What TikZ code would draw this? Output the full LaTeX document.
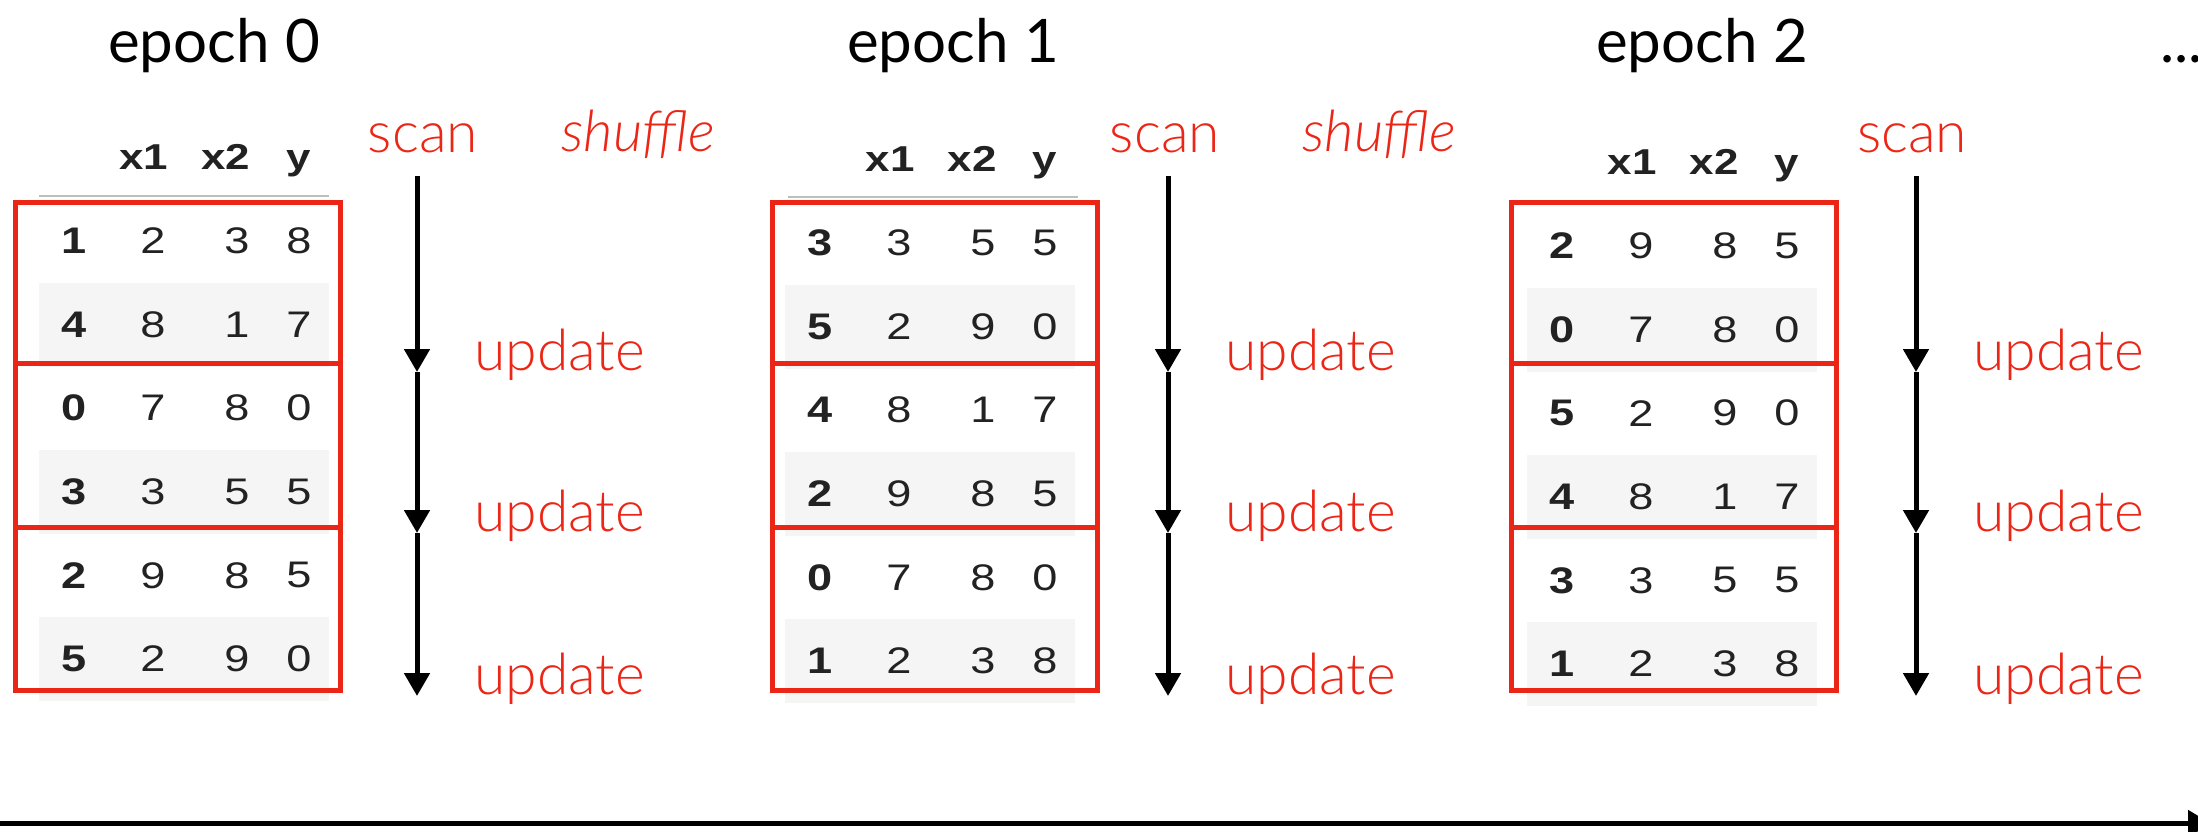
\documentclass[tikz,border=0pt]{standalone}
\usepackage{fontspec}
\usetikzlibrary{arrows.meta}
\setmainfont{Liberation Sans}
\newfontfamily\tablefont{Liberation Sans}[FakeStretch=1.22]
\newfontfamily\titlefont{Lato}
\IfFontExistsTF{Lato Light}{\newfontfamily\labelfont{Lato Light}}{\newfontfamily\labelfont{Lato}}

\definecolor{mlred}{RGB}{236,38,22}
\definecolor{rowgray}{RGB}{245,245,245}
\definecolor{rulegray}{RGB}{190,190,190}
\definecolor{ink}{RGB}{34,34,34}

\tikzset{
  cell/.style={inner sep=0pt, anchor=center, text=ink, font=\tablefont\fontsize{37}{40}\selectfont},
  idx/.style={cell, font=\tablefont\bfseries\fontsize{37}{40}\selectfont},
  colhead/.style={inner sep=0pt, anchor=base, text=ink, font=\tablefont\bfseries\fontsize{36}{40}\selectfont},
  redbox/.style={draw=mlred, line width=5pt},
  epochlabel/.style={inner sep=0pt, anchor=base, font=\titlefont\fontsize{60}{64}\selectfont},
  redlabel/.style={inner sep=0pt, text=mlred, font=\labelfont\fontsize{57}{60}\selectfont},
  scanline/.style={line width=5pt, -{Triangle[length=23pt,width=25pt]}},
  timeline/.style={line width=5pt, -{Triangle[length=23pt,width=26pt]}},
}

% #1 name, #2 left edge of the red frame, #3 x of the index column,
% #4 vertical shift of the text, #5 rows (index/x1/x2/y)
\newcommand\datatable[5]{%
  \foreach \r in {1,3,5}{
    \fill[rowgray] ({#3-35},{241+#4+83.6*\r-42}) rectangle ({#3+255},{241+#4+83.6*\r+42});
  }
  \node[colhead] (#1-hx1) at ({#3+70},{169+#4}) {x1};
  \node[colhead] (#1-hx2) at ({#3+152},{169+#4}) {x2};
  \node[colhead] (#1-hy)  at ({#3+225},{169+#4}) {y};
  \foreach [count=\r from 0] \a/\b/\c/\d in {#5}{
    \node[idx]  (#1-\r-i) at (#3,{241+#4+83.6*\r}) {\a};
    \node[cell] (#1-\r-a) at ({#3+79},{241+#4+83.6*\r}) {\b};
    \node[cell] (#1-\r-b) at ({#3+163},{241+#4+83.6*\r}) {\c};
    \node[cell] (#1-\r-c) at ({#3+225},{241+#4+83.6*\r}) {\d};
  }
  \draw[redbox] (#2,202) rectangle ({#2+325},690);
  \draw[redbox] (#2,363) -- ({#2+325},363);
  \draw[redbox] (#2,527) -- ({#2+325},527);
}

% #1 name, #2 x of the scan line
\newcommand\scanarrow[2]{%
  \coordinate (#1-s) at (#2,176);
  \coordinate (#1-1) at (#2,372);
  \coordinate (#1-2) at (#2,533);
  \coordinate (#1-3) at (#2,696);
  \draw[scanline] (#1-s) -- (#1-1);
  \draw[scanline] (#1-1) -- (#1-2);
  \draw[scanline] (#1-2) -- (#1-3);
  \node[redlabel, anchor=base west] (#1-u1) at ({#2+57},370) {update};
  \node[redlabel, anchor=base west] (#1-u2) at ({#2+57},531) {update};
  \node[redlabel, anchor=base west] (#1-u3) at ({#2+57},694) {update};
}

\begin{document}
\begin{tikzpicture}[x=1pt, y=-1pt]
\useasboundingbox (0,0) rectangle (2198,831);

% epoch titles
\node[epochlabel] (e0) at (214,62) {epoch 0};
\node[epochlabel] (e1) at (953,62) {epoch 1};
\node[epochlabel] (e2) at (1702,62) {epoch 2};
\node[epochlabel, anchor=base west] (more) at (2160,62) {...};

% header rules
\draw[rulegray, line width=2pt] (39,196) -- (329,196);
\draw[rulegray, line width=2pt] (788,197) -- (1078,197);

% the three shuffled tables
\datatable{ta}{15}{74}{0}{1/2/3/8, 4/8/1/7, 0/7/8/0, 3/3/5/5, 2/9/8/5, 5/2/9/0}
\datatable{tb}{772}{820}{2}{3/3/5/5, 5/2/9/0, 4/8/1/7, 2/9/8/5, 0/7/8/0, 1/2/3/8}
\datatable{tc}{1511}{1562}{5}{2/9/8/5, 0/7/8/0, 5/2/9/0, 4/8/1/7, 3/3/5/5, 1/2/3/8}

% scans with their updates
\scanarrow{sa}{417}
\scanarrow{sb}{1168}
\scanarrow{sc}{1916}

\node[redlabel, anchor=base] (scan0) at (423,152) {scan};
\node[redlabel, anchor=base] (scan1) at (1165,152) {scan};
\node[redlabel, anchor=base] (scan2) at (1912,152) {scan};
\node[redlabel, anchor=base west, font=\labelfont\itshape\fontsize{57}{60}\selectfont] (shuf0) at (561,151) {shuffle};
\node[redlabel, anchor=base west, font=\labelfont\itshape\fontsize{57}{60}\selectfont] (shuf1) at (1302,151) {shuffle};

% time axis
\coordinate (t0) at (0,823.5);
\coordinate (t1) at (2211,823.5);
\draw[timeline] (t0) -- (t1);
\end{tikzpicture}
\end{document}
